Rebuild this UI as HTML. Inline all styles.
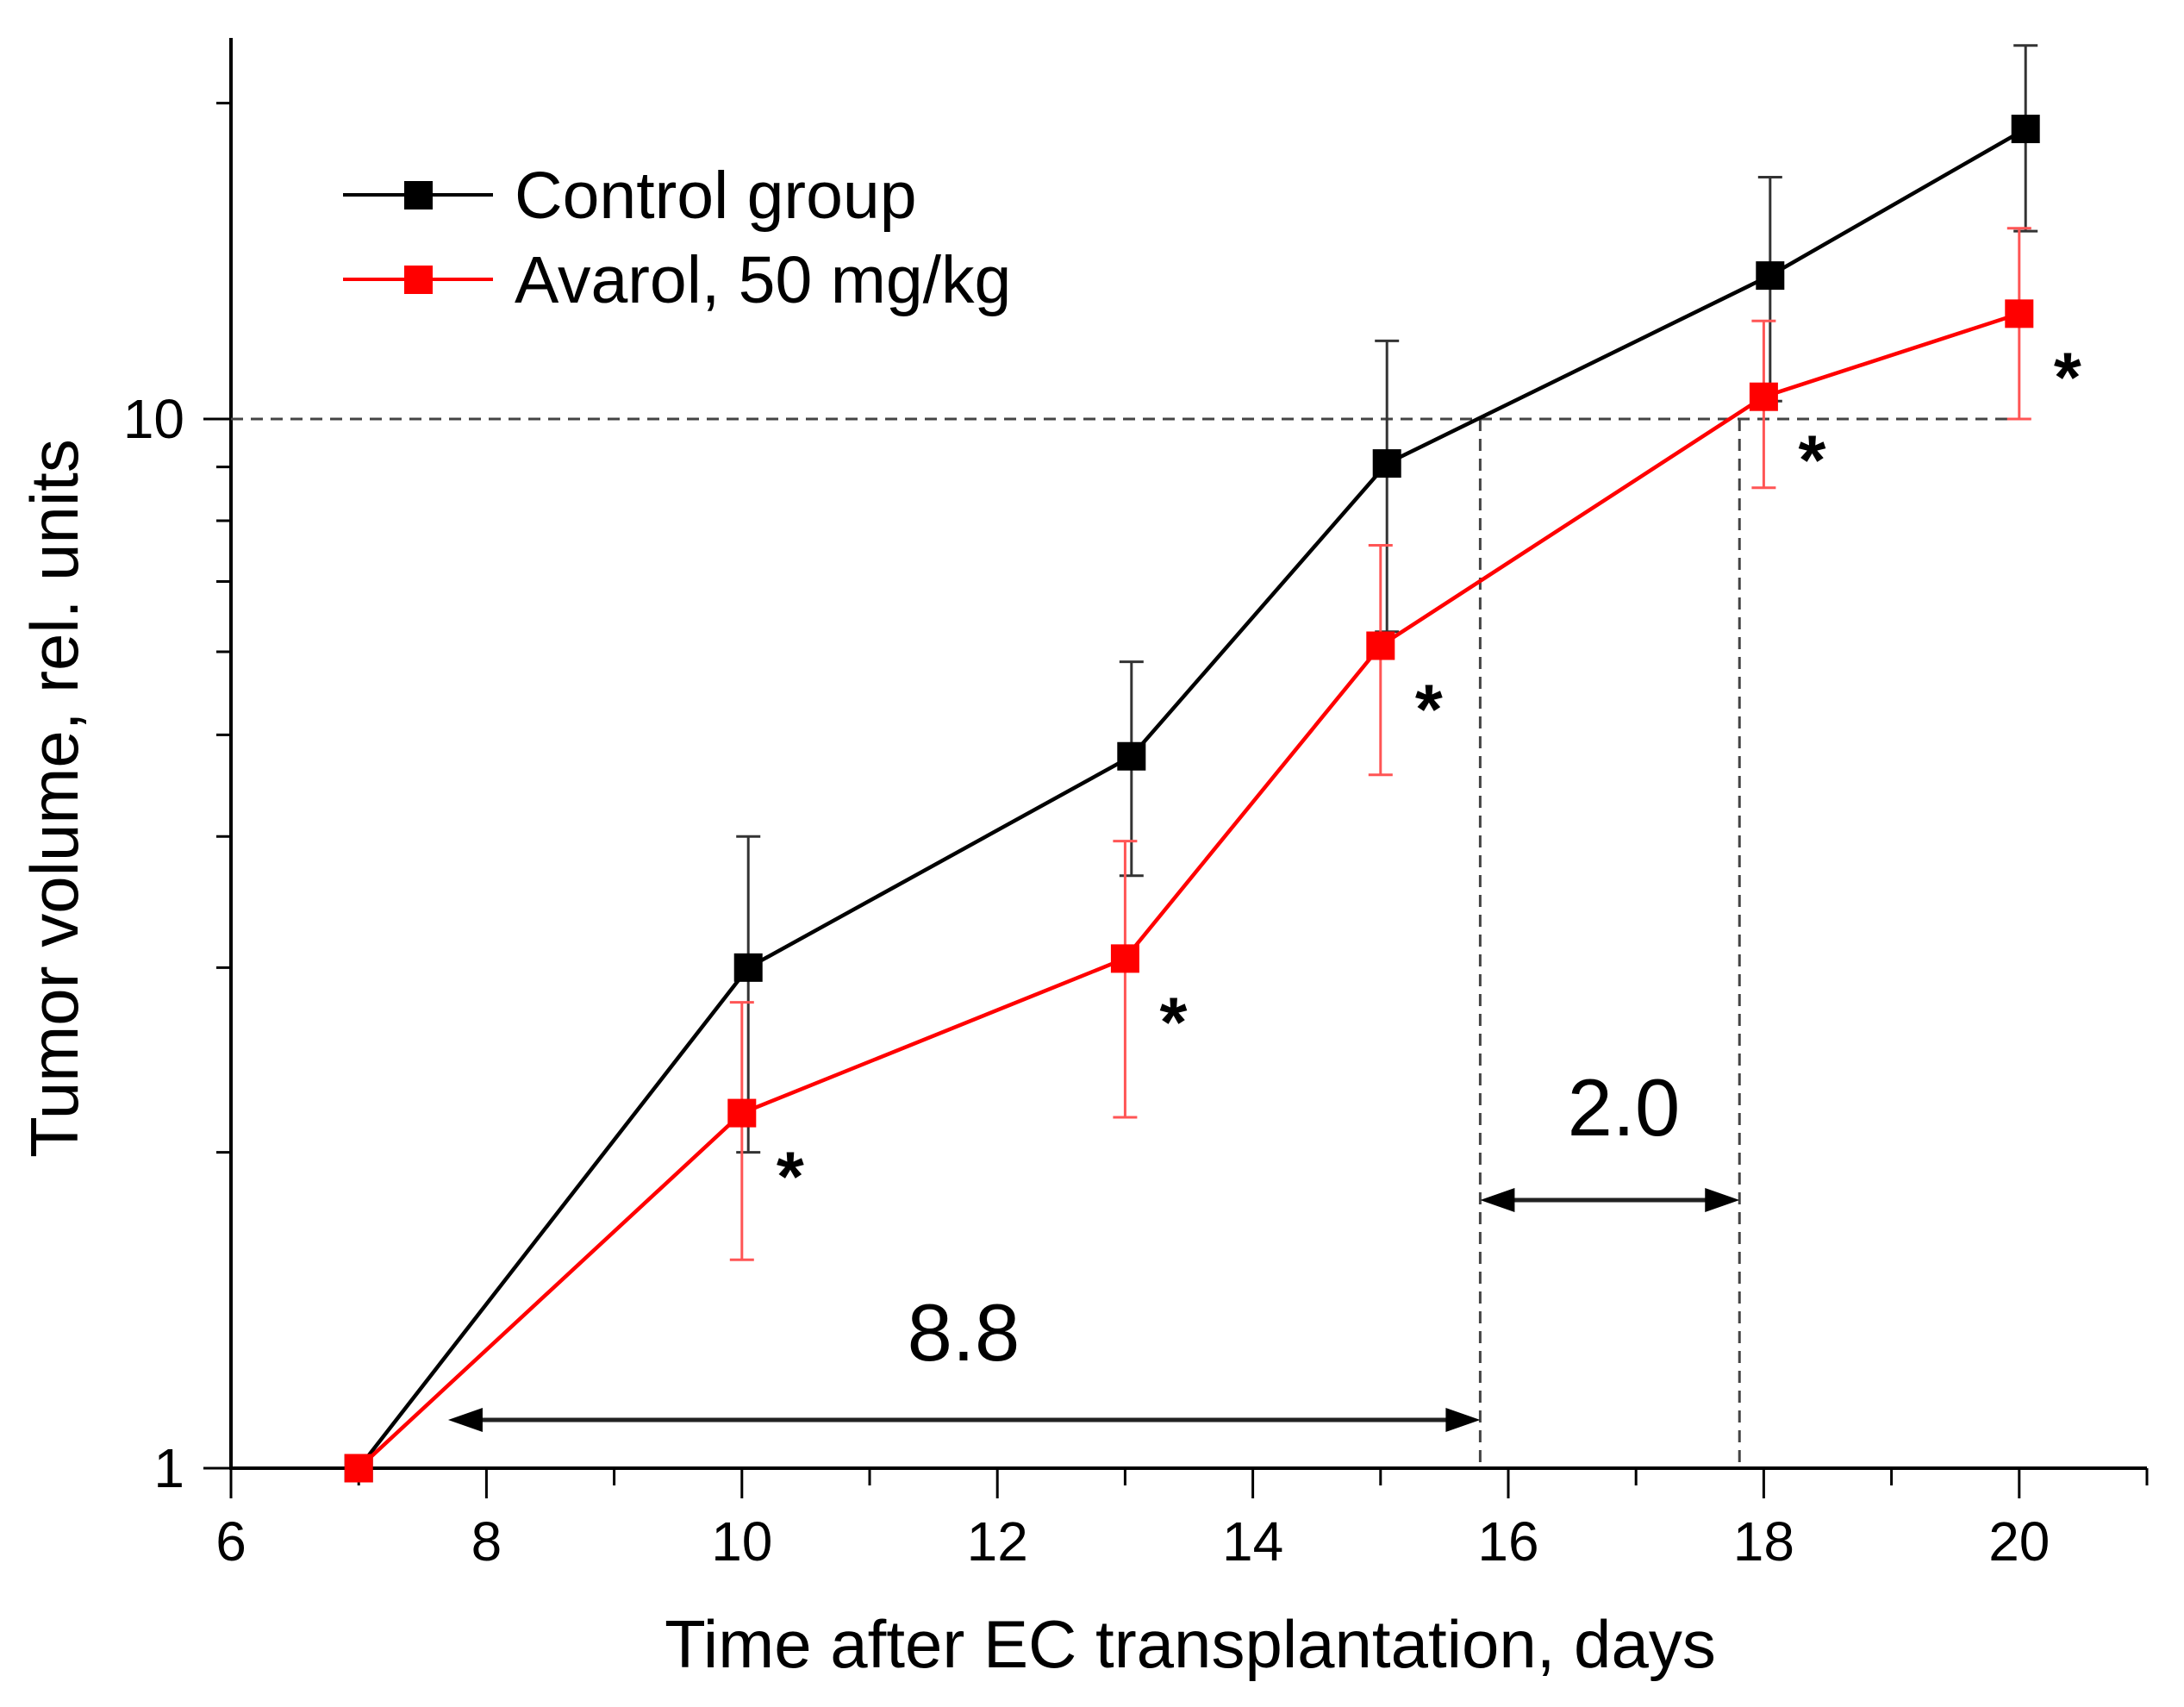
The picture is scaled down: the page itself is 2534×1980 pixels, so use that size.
<!DOCTYPE html>
<html><head><meta charset="utf-8"><style>
html,body{margin:0;padding:0;background:#fff}
svg{display:block}
text{font-family:"Liberation Sans",Arial,sans-serif;fill:#000}
</style></head><body>
<svg id="chart" width="2534" height="1980" viewBox="0 0 2534 1980" xmlns="http://www.w3.org/2000/svg">
<g id="axes"></g>
<g id="refs"></g>
<g id="series"></g>
<g id="annot"></g>
<text x="0" y="0" font-size="78" text-anchor="middle" transform="translate(90,926) rotate(-90)">Tumor volume, rel. units</text>
<text x="1381" y="1934" font-size="78" text-anchor="middle">Time after EC transplantation, days</text>
<g>
  <line x1="398" y1="226" x2="572" y2="226" stroke="#000" stroke-width="4"/>
  <rect x="469" y="210" width="33" height="33" fill="#000"/>
  <text x="597" y="253" font-size="77">Control group</text>
  <line x1="398" y1="324" x2="572" y2="324" stroke="#f00" stroke-width="4"/>
  <rect x="469" y="308" width="33" height="33" fill="#f00"/>
  <text x="597" y="351" font-size="77">Avarol, 50 mg/kg</text>
</g>
</svg>
<script>
const days = [7, 10, 13, 15, 18, 20];
const controlValues = [1.0, 3.0, 4.77, 9.07, 13.7, 18.9];
const controlErr = [0, 1.0, 1.1, 2.8, 3.3, 3.8];
const avarolValues = [1.0, 2.18, 3.06, 6.08, 10.5, 12.6];
const avarolErr = [0, 0.6, 0.9, 1.5, 1.9, 2.6];
const xTickLabels = [6, 8, 10, 12, 14, 16, 18, 20];
const yTickLabels = [1, 10];
const asteriskDays = [10, 13, 15, 18, 20];
const crossY = 10;
const crossControlDay = 15.78;
const crossAvarolDay = 17.81;

const NS = "http://www.w3.org/2000/svg";
const X0 = 268, PXDAY = 148.2, Y1 = 1703, DEC = 1217;
const xs = d => X0 + (d - 6) * PXDAY;
const ys = v => Y1 - Math.log10(v) * DEC;
function mk(parent, tag, attrs, text) {
  const e = document.createElementNS(NS, tag);
  for (const k in attrs) e.setAttribute(k, attrs[k]);
  if (text !== undefined) e.textContent = text;
  parent.appendChild(e);
  return e;
}
const axes = document.getElementById('axes');
const refs = document.getElementById('refs');
const series = document.getElementById('series');
const annot = document.getElementById('annot');

let e = mk(axes, 'line', {x1: X0, y1: 44, x2: X0, y2: Y1 + 2, stroke: '#000', 'stroke-width': 4});


e = mk(axes, 'line', {x1: X0 - 2, y1: Y1, x2: xs(21), y2: Y1, stroke: '#000', 'stroke-width': 4});


for (let d = 6; d <= 21; d++) {
  const major = d % 2 === 0;
  e = mk(axes, 'line', {x1: xs(d), y1: Y1, x2: xs(d), y2: Y1 + (major ? 35 : 20), stroke: '#000', 'stroke-width': 3});
  
  
}
xTickLabels.forEach(t => {
  e = mk(axes, 'text', {x: xs(t), y: 1810, 'font-size': 64, 'text-anchor': 'middle'}, String(t));
  
  
});
[1,2,3,4,5,6,7,8,9,10,20].forEach(v => {
  const major = v === 1 || v === 10;
  e = mk(axes, 'line', {x1: X0 - (major ? 32 : 17), y1: ys(v), x2: X0, y2: ys(v), stroke: '#000', 'stroke-width': 3});
  
  
});
yTickLabels.forEach(t => {
  e = mk(axes, 'text', {x: 214, y: ys(t) + 22, 'font-size': 64, 'text-anchor': 'end'}, String(t));
  
  
});

const dash = {stroke: '#444', 'stroke-width': 3, 'stroke-dasharray': '14 9', fill: 'none'};
e = mk(refs, 'line', Object.assign({x1: X0, y1: ys(crossY), x2: xs(20), y2: ys(crossY)}, dash));


[crossControlDay, crossAvarolDay].forEach(d => {
  e = mk(refs, 'line', Object.assign({x1: xs(d), y1: ys(crossY), x2: xs(d), y2: Y1}, dash));
  
  
});

function drawSeries(vals, errs, color, errColor, off, name) {
  const g = mk(series, 'g', {});
  
  
  vals.forEach((v, i) => {
    if (!errs[i]) return;
    const x = xs(days[i] + off);
    const yt = ys(v + errs[i]), yb = ys(Math.max(v - errs[i], 0.01));
    const eg = mk(g, 'g', {stroke: errColor, 'stroke-width': 3});
    
    
    mk(eg, 'line', {x1: x, y1: yt, x2: x, y2: yb});
    mk(eg, 'line', {x1: x - 14, y1: yt, x2: x + 14, y2: yt});
    mk(eg, 'line', {x1: x - 14, y1: yb, x2: x + 14, y2: yb});
  });
  const pts = vals.map((v, i) => xs(days[i] + (i ? off : 0)) + ',' + ys(v)).join(' ');
  const pl = mk(g, 'polyline', {points: pts, fill: 'none', stroke: color, 'stroke-width': 4.5});
  
  
  vals.forEach((v, i) => {
    const r = mk(g, 'rect', {x: xs(days[i] + (i ? off : 0)) - 16.5, y: ys(v) - 16.5, width: 33, height: 33, fill: color});
    
    
  });
}
drawSeries(controlValues, controlErr, '#000', '#333', 0.05, 'control');
drawSeries(avarolValues, avarolErr, '#f00', '#ff5555', 0.0, 'avarol');

asteriskDays.forEach(d => {
  const i = days.indexOf(d);
  e = mk(annot, 'text', {x: xs(d) + 56, y: ys(avarolValues[i]) + 102, 'font-size': 82, 'font-weight': 'bold', 'text-anchor': 'middle'}, '*');
  
  
});

function arrow(xa, xb, y, name) {
  const g = mk(annot, 'g', {});
  
  
  mk(g, 'line', {x1: xa + 30, y1: y, x2: xb - 30, y2: y, stroke: '#222', 'stroke-width': 5});
  mk(g, 'polygon', {points: `${xa},${y} ${xa+40},${y-14} ${xa+40},${y+14}`, fill: '#000'});
  mk(g, 'polygon', {points: `${xb},${y} ${xb-40},${y-14} ${xb-40},${y+14}`, fill: '#000'});
}
arrow(xs(7.7), xs(crossControlDay), 1647, 'arrow-8-8-days');
arrow(xs(crossControlDay), xs(crossAvarolDay), 1392, 'arrow-2-0-days');
e = mk(annot, 'text', {x: 1118, y: 1578, 'font-size': 94, 'text-anchor': 'middle'}, '8.8');


e = mk(annot, 'text', {x: 1884, y: 1317, 'font-size': 94, 'text-anchor': 'middle'}, '2.0');


</script>
</body></html>
